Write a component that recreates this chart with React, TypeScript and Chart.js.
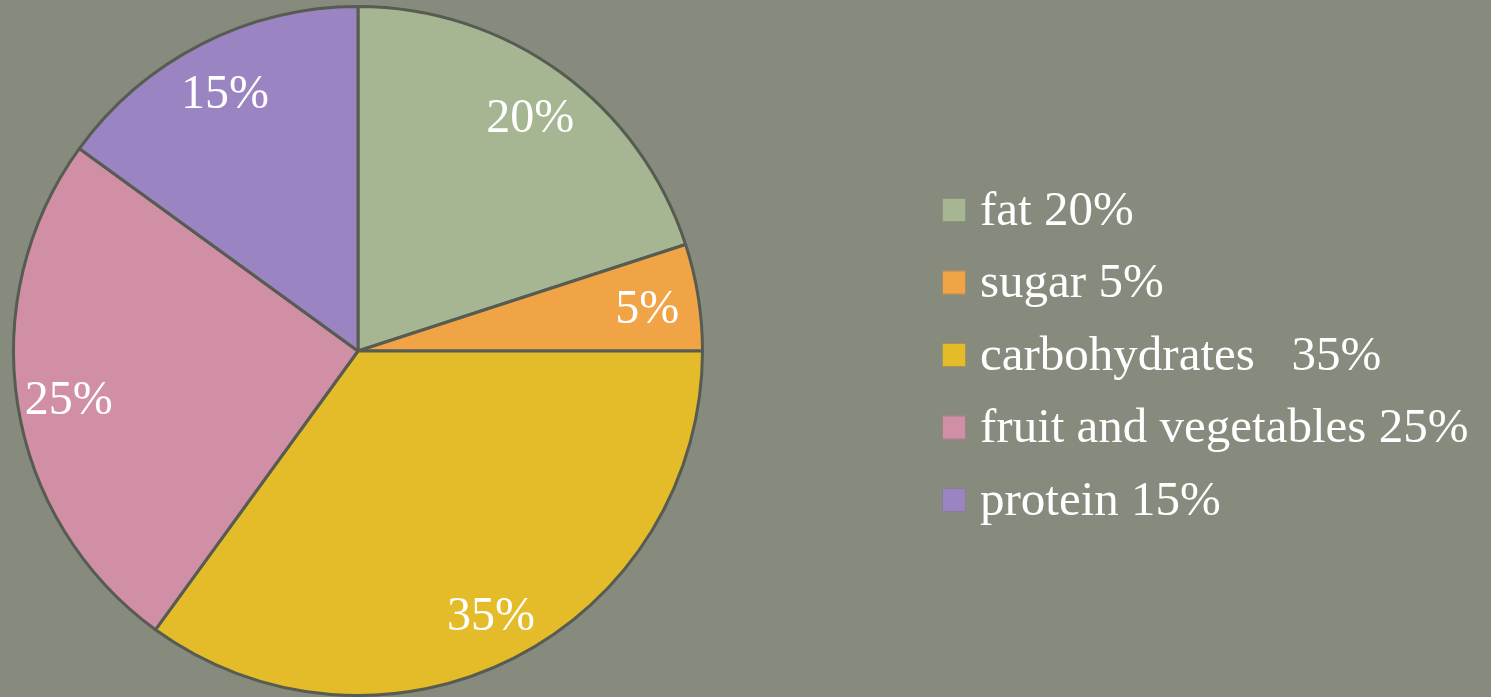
import React, { useEffect, useRef } from "react";
import { Chart, registerables } from "chart.js";

Chart.register(...registerables);

const categories = ["fat", "sugar", "carbohydrates", "fruit and vegetables", "protein"];
const values = [20, 5, 35, 25, 15];
const legendLabels = ["fat 20%", "sugar 5%", "carbohydrates   35%", "fruit and vegetables 25%", "protein 15%"];
const sliceColors = ["#a6b592", "#f0a446", "#e4bb28", "#d18fa6", "#9a84c1"];

const BG = "#868b7e";
const FONT = "'Liberation Serif', 'DejaVu Serif', serif";

const sliceLabelPlugin = {
  id: "sliceLabels",
  afterDatasetsDraw(chart: any) {
    const meta = chart.getDatasetMeta(0);
    const ctx = chart.ctx;
    const ds = chart.data.datasets[0];
    ctx.save();
    ctx.fillStyle = "#ffffff";
    ctx.font = `48px ${FONT}`;
    ctx.textAlign = "center";
    ctx.textBaseline = "middle";
    meta.data.forEach((arc: any, i: number) => {
      const p = arc.getProps(["x", "y", "startAngle", "endAngle", "outerRadius"], true);
      const mid = (p.startAngle + p.endAngle) / 2;
      const r = p.outerRadius * 0.85;
      ctx.fillText(`${ds.data[i]}%`, p.x + Math.cos(mid) * r, p.y + Math.sin(mid) * r + 5);
    });
    ctx.restore();
  },
};

const legendPlugin = {
  id: "sideLegend",
  afterDraw(chart: any, _args: any, opts: any) {
    const ctx = chart.ctx;
    const colors = chart.data.datasets[0].backgroundColor;
    ctx.save();
    ctx.font = `${opts.fontSize}px ${FONT}`;
    ctx.textBaseline = "middle";
    ctx.textAlign = "left";
    opts.labels.forEach((txt: string, i: number) => {
      const cy = opts.top + i * opts.spacing;
      ctx.fillStyle = colors[i];
      ctx.fillRect(opts.left, cy - opts.box / 2, opts.box, opts.box);
      ctx.strokeStyle = "rgba(120,125,112,0.6)";
      ctx.lineWidth = 1;
      ctx.strokeRect(opts.left + 0.5, cy - opts.box / 2 + 0.5, opts.box - 1, opts.box - 1);
      ctx.fillStyle = "#ffffff";
      ctx.fillText(txt, opts.left + opts.box + opts.gap, cy + 2);
    });
    ctx.restore();
  },
};

export default function App() {
  const ref = useRef<HTMLCanvasElement | null>(null);
  useEffect(() => {
    document.body.style.margin = "0";
    const chart = new Chart(ref.current as HTMLCanvasElement, {
      type: "pie",
      data: {
        labels: categories,
        datasets: [
          {
            data: values,
            backgroundColor: sliceColors,
            borderColor: "#575c52",
            borderWidth: 3,
          },
        ],
      },
      options: {
        responsive: false,
        animation: false,
        layout: { padding: { left: 0, top: 5, right: 775, bottom: 0 } },
        plugins: {
          legend: { display: false },
          tooltip: { enabled: false },
          sideLegend: {
            labels: legendLabels,
            left: 942,
            top: 210,
            spacing: 72.5,
            box: 24,
            gap: 14,
            fontSize: 49,
          },
        } as any,
      },
      plugins: [sliceLabelPlugin, legendPlugin],
    });
    return () => chart.destroy();
  }, []);
  return (
    <div style={{ position: "fixed", left: 0, top: 0, width: 1491, height: 697, background: BG }}>
      <canvas ref={ref} width={1491} height={697} style={{ display: "block" }} />
    </div>
  );
}
